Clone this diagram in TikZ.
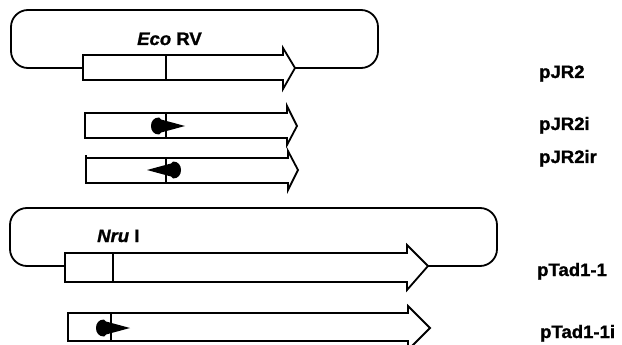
\documentclass[tikz,border=0pt]{standalone}
\usepackage{fontspec}
\setmainfont{Liberation Sans}[FakeStretch=1.03, BoldFeatures={FakeBold=1.2}, BoldItalicFeatures={FakeBold=1.2}]
\newcommand\labfont{\fontsize{18}{21}\selectfont\bfseries}
\begin{document}
\begin{tikzpicture}[x=1pt,y=-1pt,
  line/.style={line width=1.8pt, line join=miter},
  plasmid/.style={line width=1.8pt, rounded corners=17pt},
  lab/.style={anchor=base west, inner sep=0pt, font=\labfont},
  site/.style={anchor=base west, inner sep=0pt, font=\labfont},
  dart/.pic={\fill (0,0) -- (-24,-6.5) -- (-26,-8.5) .. controls (-31,-8.5) and (-34,-5) .. (-34,0) .. controls (-34,5) and (-31,8.5) .. (-26,8.5) -- (-24,6.5) -- cycle;}
]
\useasboundingbox (0,0) rectangle (622,345);

% ---- pJR2 plasmid
\draw[plasmid] (83,68) -- (11,68) -- (11,10) -- (378,10) -- (378,68) -- (295,68);
\draw[line] (83,55) -- (283,55) -- (283,48) -- (295,68) -- (283,89) -- (283,80) -- (83,80) -- cycle;
\draw[line] (166,55) -- (166,80);
\node[site] (eco) at (137,45) {\textit{Eco} RV};

% ---- pJR2i
\draw[line] (85,113) -- (287,113) -- (287,106) -- (297,126) -- (287,145) -- (287,138) -- (85,138) -- cycle;
\draw[line] (166,113) -- (166,138);
\pic at (185,126) {dart};

% ---- pJR2ir
\draw[line] (86,158) -- (288,158) -- (288,151) -- (298,170) -- (288,190) -- (288,183) -- (86,183) -- cycle;
\draw[line] (86,158) -- (86,155);
\draw[line] (166,158) -- (166,183);
\pic[xscale=-1] at (147,170) {dart};

% ---- pTad1-1 plasmid
\draw[plasmid] (65,266) -- (10,266) -- (10,208) -- (497,208) -- (497,266) -- (428,266);
\draw[line] (65,253) -- (407,253) -- (407,245) -- (428,266) -- (407,290) -- (407,282) -- (65,282) -- cycle;
\draw[line] (113,253) -- (113,282);
\node[site] (nru) at (97,242) {\textit{Nru} I};

% ---- pTad1-1i
\draw[line] (68,313) -- (408,313) -- (408,306) -- (430,328) -- (408,350) -- (408,341) -- (68,341) -- cycle;
\draw[line] (111,313) -- (111,341);
\pic at (130,328) {dart};

% ---- labels
\node[lab] (l1) at (539,78) {pJR2};
\node[lab] (l2) at (539,130) {pJR2i};
\node[lab] (l3) at (539,163) {pJR2ir};
\node[lab] (l4) at (537,276) {pTad1-1};
\node[lab] (l5) at (540,338) {pTad1-1i};
\end{tikzpicture}
\end{document}
